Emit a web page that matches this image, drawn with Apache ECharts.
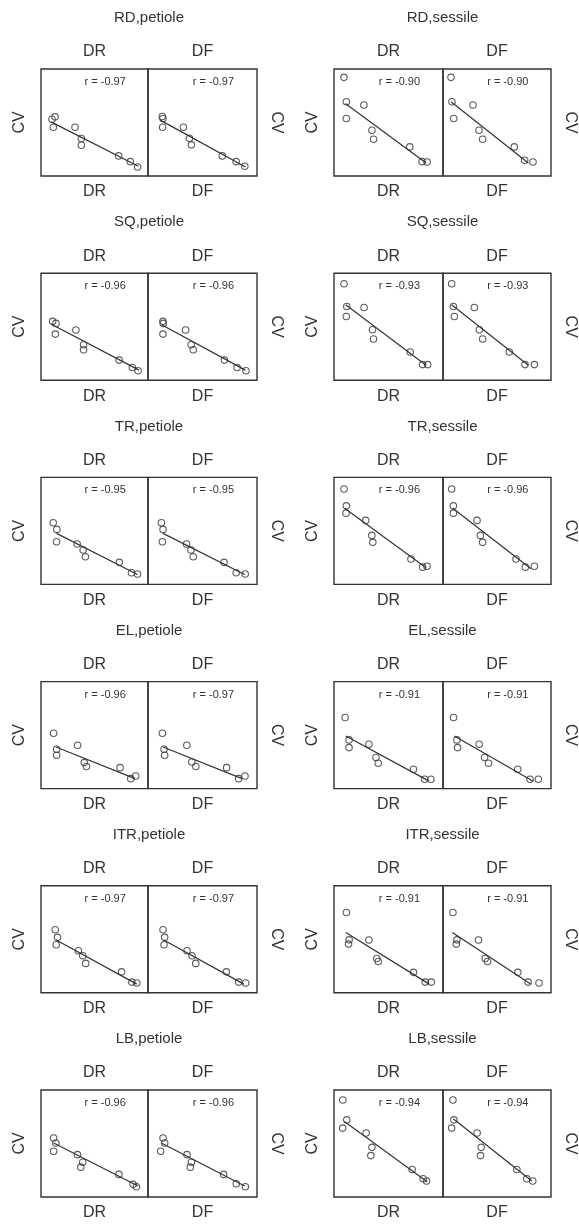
<!DOCTYPE html>
<html>
<head>
<meta charset="utf-8">
<script src="https://cdn.jsdelivr.net/npm/echarts@6/dist/echarts.min.js"></script>
<style>
html,body{margin:0;padding:0;background:#fff;}
#chart{width:579px;height:1227px;}
</style>
</head>
<body>
<div id="chart"></div>
<script>
// Panel titles (row-major: petiole left, sessile right)
const panelTitles = ["RD,petiole","RD,sessile","SQ,petiole","SQ,sessile","TR,petiole","TR,sessile",
  "EL,petiole","EL,sessile","ITR,petiole","ITR,sessile","LB,petiole","LB,sessile"];
const subLabels = ["DR","DF"];
const yLabel = "CV";
// correlation coefficients [DR, DF]
const rValues = [[-0.97,-0.97],[-0.90,-0.90],[-0.96,-0.96],[-0.93,-0.93],[-0.95,-0.95],[-0.96,-0.96],
  [-0.96,-0.97],[-0.91,-0.91],[-0.97,-0.97],[-0.91,-0.91],[-0.96,-0.96],[-0.94,-0.94]];
// DR scatter (x, y in panel units 0-100)
const xDR = [
  [10.3,13.1,11.5,31.8,37.7,37.7,72.6,83.5,90.3],
  [9.1,11.3,11.3,27.4,34.8,36.3,69.5,80.8,85.4],
  [10.9,14.0,13.4,32.6,39.8,39.8,73.0,85.4,90.7],
  [9.2,11.7,11.3,27.6,35.3,36.2,69.9,81.3,85.9],
  [11.4,14.8,14.5,33.8,39.4,41.5,73.2,84.6,90.2],
  [9.2,11.3,11.0,29.1,34.7,35.6,70.6,81.3,85.3],
  [11.8,14.6,14.6,34.2,40.4,42.5,73.9,83.9,88.5],
  [10.2,13.8,13.8,32.0,38.5,40.6,72.9,83.1,88.9],
  [13.3,15.4,14.2,34.9,39.0,41.8,75.3,84.9,89.5],
  [11.4,13.9,13.3,32.0,39.2,40.6,72.9,83.7,89.3],
  [11.8,13.9,11.8,34.1,39.0,37.2,72.8,86.1,89.2],
  [8.0,11.7,8.0,29.5,34.8,33.8,71.7,81.8,84.9]
];
const yDR = [
  [53.1,55.3,45.6,45.6,35.0,28.8,18.8,13.4,8.4],
  [92.2,69.4,53.8,66.3,42.8,34.4,27.2,13.4,13.1],
  [55.0,53.1,43.1,46.9,33.1,28.4,18.8,11.9,8.8],
  [90.1,68.9,59.6,68.0,47.2,38.5,26.4,14.6,14.6],
  [57.6,51.4,39.9,37.7,32.1,25.9,20.6,10.9,9.7],
  [89.2,73.4,66.6,59.8,45.8,39.3,23.8,16.1,17.0],
  [51.7,36.8,31.2,40.5,24.3,20.6,19.6,9.3,11.8],
  [66.4,45.5,38.3,41.4,29.0,23.7,18.1,8.7,8.7],
  [58.9,51.8,44.9,39.3,34.6,27.5,19.6,10.0,9.1],
  [75.1,49.5,45.5,49.3,32.1,29.3,19.1,10.0,10.0],
  [55.1,50.5,42.7,39.6,32.5,27.9,21.1,11.8,9.6],
  [90.7,72.1,64.4,59.8,46.4,38.7,25.7,17.0,14.9]
];
// DF scatter
const xDF = [
  [13.1,13.7,13.4,32.5,38.0,39.8,68.1,80.9,88.8],
  [7.4,8.3,9.9,27.8,33.3,36.7,66.0,75.6,83.3],
  [13.7,14.0,13.7,34.5,39.6,41.5,70.1,81.7,89.9],
  [8.0,9.6,10.5,29.0,33.6,36.7,61.4,75.9,84.6],
  [12.3,13.8,13.2,35.4,39.4,41.5,69.8,80.9,89.2],
  [8.0,9.6,9.6,31.5,34.6,36.7,67.6,76.2,84.6],
  [13.2,14.7,15.3,35.6,40.2,43.9,72.1,83.1,89.0],
  [9.8,12.9,13.5,33.5,38.5,42.2,69.2,80.6,88.3],
  [13.8,15.3,14.7,35.8,40.4,43.8,71.9,83.2,89.6],
  [9.2,12.9,12.3,32.9,39.1,41.2,69.3,78.8,88.9],
  [13.8,15.3,11.6,35.8,39.8,38.8,69.4,81.0,89.3],
  [9.2,10.1,8.0,31.6,35.3,34.7,68.4,77.6,83.1]
];
const yDF = [
  [55.6,53.8,45.6,45.6,35.3,29.1,18.8,13.4,9.1],
  [92.2,69.4,53.8,66.3,42.8,34.4,27.2,14.7,13.1],
  [55.0,53.1,43.1,46.9,33.1,28.4,18.8,11.9,8.8],
  [90.1,68.9,59.6,68.0,47.2,38.5,26.4,14.6,14.6],
  [57.6,51.4,39.9,37.7,32.1,25.9,20.6,10.9,9.7],
  [89.2,73.4,66.6,59.8,45.8,39.3,23.8,16.1,17.0],
  [51.7,36.8,31.2,40.5,24.9,20.6,19.6,9.3,11.8],
  [66.4,45.5,38.3,41.4,29.0,23.7,18.1,8.7,8.7],
  [58.9,51.8,44.9,39.3,34.6,27.5,19.6,10.0,9.1],
  [75.1,49.5,45.5,49.3,32.1,29.3,19.1,10.0,9.1],
  [55.1,50.5,42.7,39.6,32.5,27.9,21.1,12.4,9.6],
  [90.7,72.1,64.4,59.8,46.4,38.7,25.7,17.0,14.9]
];
// fitted line endpoints [x1, y1, x2, y2]
const lineDR = [
  [9.3,50.6,91.0,9.1],[10.4,67.8,84.5,12.2],[9.3,52.5,91.6,9.4],[10.7,70.5,84.4,14.0],
  [14.5,47.7,90.2,9.3],[9.8,71.2,84.4,15.5],[14.0,38.9,87.9,9.3],[10.8,49.2,86.8,7.2],
  [14.2,49.3,89.5,8.1],[10.8,56.4,87.4,8.1],[11.8,50.5,90.7,10.2],[9.5,70.6,85.5,14.2]
];
const lineDF = [
  [11.2,52.2,89.4,8.4],[7.4,69.4,79.0,12.2],[12.5,51.9,89.3,9.4],[8.0,70.5,79.0,14.0],
  [13.8,47.7,88.6,9.3],[9.0,71.2,81.5,14.6],[13.8,38.9,86.2,9.3],[10.5,49.2,83.1,7.2],
  [14.4,49.3,87.9,8.1],[8.6,56.4,81.5,8.1],[12.2,50.5,88.7,10.2],[9.5,73.1,82.2,14.9]
];

const FONT = "'Liberation Sans', Arial, Helvetica, sans-serif";
const INK = '#333';
const colX = [[41,148,257],[334,443,551]];
const rowTop0 = 69, rowPitch = 204.2, boxH = 107;

const grids = [], xAxes = [], yAxes = [], series = [], graphics = [];
function txt(x, y, s, size, rot) {
  graphics.push({type:'text', x:x, y:y, rotation: rot||0, silent:true,
    style:{text:s, font: size+'px '+FONT, fill:INK, textAlign:'center', textVerticalAlign:'middle', align:'center', verticalAlign:'middle'}});
}
panelTitles.forEach((title, p) => {
  const row = Math.floor(p/2), col = p%2;
  const top = rowTop0 + row*rowPitch;
  const [x0, xm, x1] = colX[col];
  txt((x0+x1)/2, top-51, title, 15);
  txt(x0-21, top+boxH/2, yLabel, 16, Math.PI/2);
  txt(x1+19, top+boxH/2, yLabel, 16, -Math.PI/2);
  [[x0,xm],[xm,x1]].forEach(([a,b], s) => {
    const gi = grids.length;
    grids.push({left:a, top:top, width:b-a, height:boxH, show:true, borderColor:'#333', borderWidth:1.4, backgroundColor:'transparent'});
    xAxes.push({type:'value', gridIndex:gi, min:0, max:100, show:false});
    yAxes.push({type:'value', gridIndex:gi, min:0, max:100, show:false});
    const xs = s===0 ? xDR[p] : xDF[p];
    const ys = s===0 ? yDR[p] : yDF[p];
    const ln = s===0 ? lineDR[p] : lineDF[p];
    series.push({type:'line', xAxisIndex:gi, yAxisIndex:gi, data:[[ln[0],ln[1]],[ln[2],ln[3]]],
      showSymbol:false, symbol:'none', lineStyle:{color:INK, width:1.2}, silent:true, z:2});
    series.push({type:'scatter', xAxisIndex:gi, yAxisIndex:gi, data: xs.map((v,i)=>[v, ys[i]]),
      symbol:'circle', symbolSize:6.5, itemStyle:{color:'rgba(0,0,0,0)', borderColor:INK, borderWidth:1.1}, silent:true, z:3});
    txt((a+b)/2, top-17, subLabels[s], 16);
    txt((a+b)/2, top+boxH+16, subLabels[s], 16);
    txt(a+(b-a)*0.6, top+13, 'r = ' + rValues[p][s].toFixed(2), 11);
  });
});

const chart = echarts.init(document.getElementById('chart'), null, {renderer:'canvas'});
chart.setOption({
  animation:false,
  backgroundColor:'#fff',
  grid:grids, xAxis:xAxes, yAxis:yAxes, series:series, graphic:graphics
});
</script>
</body>
</html>
